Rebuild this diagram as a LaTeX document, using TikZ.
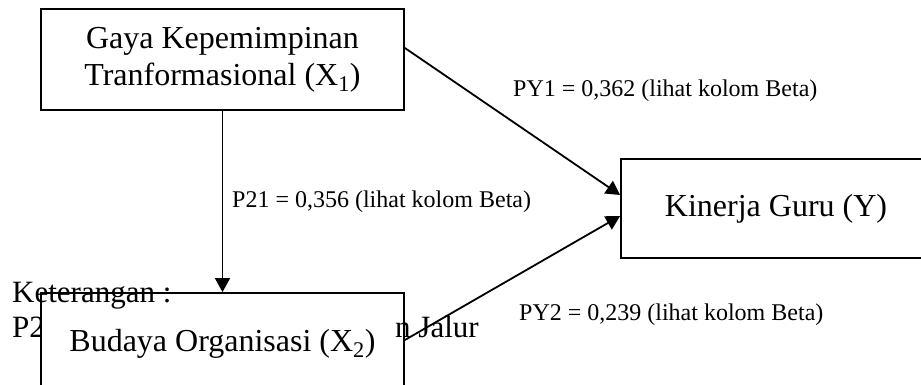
\documentclass[tikz,border=0pt]{standalone}
\usepackage{fontspec}
\setmainfont{Liberation Serif}
\usetikzlibrary{arrows.meta}
\tikzset{
  box/.style={draw, line width=1.8pt, fill=white, inner sep=0pt, align=center,
    font=\fontsize{32}{37}\selectfont},
  lbl/.style={inner sep=0pt, anchor=base west, font=\fontsize{24}{28}\selectfont},
  note/.style={inner sep=0pt, anchor=base west, font=\fontsize{31}{36}\selectfont},
  arr/.style={line width=1.8pt, -{Triangle[length=14pt,width=15pt]}}
}
\begin{document}
\begin{tikzpicture}[x=1pt,y=-1pt]
\useasboundingbox (0,0) rectangle (921,385);
\clip (0,0) rectangle (921,385);
\fill[white] (0,0) rectangle (921,385);
% second note line (partly hidden by the box X2)
\node[note] (p2) at (12,337) {P2};
% boxes
\node[box, minimum width=363pt, minimum height=101pt] (x1) at (222.5,59.5)
  {Gaya Kepemimpinan\\Tranformasional (X\textsubscript{1})};
\node[box, minimum width=363pt, minimum height=101pt] (x2) at (222.5,343.5)
  {Budaya Organisasi (X\textsubscript{2})};
\node[box, minimum width=310pt, minimum height=99pt] (y) at (776,208.5)
  {Kinerja Guru (Y)};
% note texts in front of the box
\node[note] (ket) at (12,302) {Keterangan :};
\node[note] (jal) at (395,337) {n Jalur};
% connectors
\draw[arr] (x1.south) -- (x2.north);
\draw[arr] ([yshift=11.5pt]x1.east) -- ([yshift=13.5pt]y.west);
\draw[arr] ([yshift=3.5pt]x2.east) -- ([yshift=-7.5pt]y.west);
% labels
\node[lbl] (l1) at (513,97) {PY1 = 0,362 (lihat kolom Beta)};
\node[lbl] (l2) at (232,207) {P21 = 0,356 (lihat kolom Beta)};
\node[lbl] (l3) at (519,320) {PY2 = 0,239 (lihat kolom Beta)};
\end{tikzpicture}
\end{document}
